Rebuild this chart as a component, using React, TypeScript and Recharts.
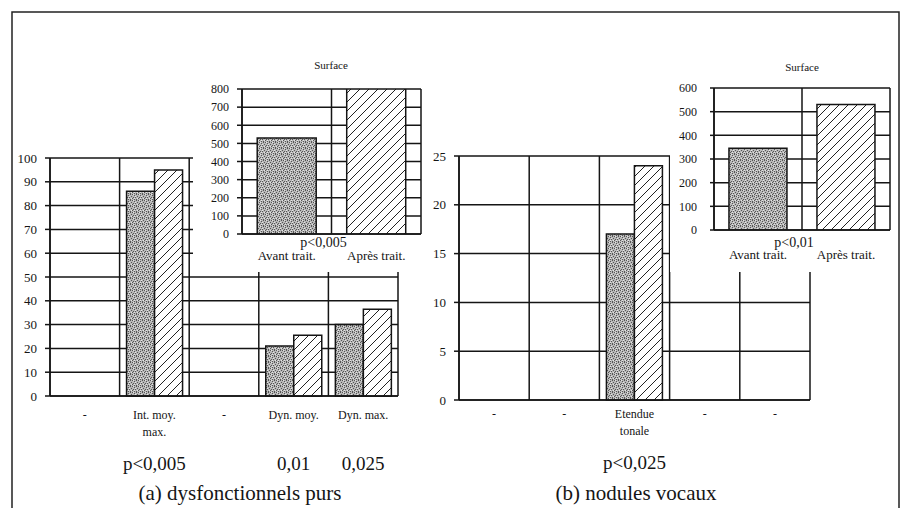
import { BarChart, Bar, XAxis, YAxis, CartesianGrid, Cell, Label } from 'recharts'

// main chart (a) dysfonctionnels purs
const catsA = ['-', 'Int. moy.\nmax.', '-', 'Dyn. moy.', 'Dyn. max.']
const avantA = [null, 86, null, 21, 30]
const apresA = [null, 95, null, 25.5, 36.5]
const pValsA = ['', 'p<0,005', '', '0,01', '0,025']
const ticksA = [0, 10, 20, 30, 40, 50, 60, 70, 80, 90, 100]

// main chart (b) nodules vocaux
const catsB = ['-', '-', 'Etendue\ntonale', '-', '-']
const avantB = [null, null, 17, null, null]
const apresB = [null, null, 24, null, null]
const pValsB = ['', '', 'p<0,025', '', '']
const ticksB = [0, 5, 10, 15, 20, 25]

// "Surface" insets
const surfCats = ['Avant trait.', 'Après trait.']
const surfA = [530, 800]
const surfB = [345, 530]
const surfTicksA = [0, 100, 200, 300, 400, 500, 600, 700, 800]
const surfTicksB = [0, 100, 200, 300, 400, 500, 600]
const surfPA = 'p<0,005'
const surfPB = 'p<0,01'
const surfTitle = 'Surface'

const captionA = '(a) dysfonctionnels purs'
const captionB = '(b) nodules vocaux'

const FONT = 'Liberation Serif, DejaVu Serif, serif'
const INK = '#151515'

const dataA = catsA.map((c, i) => ({ cat: c, avant: avantA[i], apres: apresA[i] }))
const dataB = catsB.map((c, i) => ({ cat: c, avant: avantB[i], apres: apresB[i] }))
const insetA = surfCats.map((c, i) => ({ cat: c, v: surfA[i] }))
const insetB = surfCats.map((c, i) => ({ cat: c, v: surfB[i] }))

// speckle for the grey "avant" bars
const DARK = [[0, 0], [4, 0], [2, 1], [5, 2], [1, 3], [3, 3], [0, 4], [4, 5], [2, 5]]
const LIGHT = [[1, 0], [3, 2], [5, 4], [2, 4]]

function Patterns({ id }: { id: string }) {
  return (
    <defs>
      <pattern id={`hatch-${id}`} patternUnits="userSpaceOnUse" width="9" height="9">
        <rect width="9" height="9" fill="#fff" />
        <path d="M-1,1 l2,-2 M0,9 l9,-9 M8,10 l2,-2" stroke="#222" strokeWidth="1" />
      </pattern>
      <pattern id={`dots-${id}`} patternUnits="userSpaceOnUse" width="6" height="6">
        <rect width="6" height="6" fill="#b8b8b8" />
        {DARK.map(([x, y], i) => <rect key={`d${i}`} x={x} y={y} width="1" height="1" fill="#555" />)}
        {LIGHT.map(([x, y], i) => <rect key={`l${i}`} x={x} y={y} width="1" height="1" fill="#e4e4e4" />)}
      </pattern>
    </defs>
  )
}

// vertical grid lines on category boundaries, like Excel
const boundaries = (n: number) => ({ offset }: any) =>
  Array.from({ length: n + 1 }, (_, i) => offset.left + (offset.width * i) / n)

function MainTick(props: any) {
  const { x, y, index, payload, pvals, pGap } = props
  const lines = String(payload.value).split('\n')
  return (
    <g style={{ fontFamily: FONT }} fill={INK}>
      {lines.map((l: string, i: number) => (
        <text key={i} x={x} y={y + i * 17} textAnchor="middle" fontSize={12}>{l}</text>
      ))}
      {pvals[index] ? (
        <text x={x} y={y + pGap} textAnchor="middle" fontSize={19}>{pvals[index]}</text>
      ) : null}
    </g>
  )
}

function InsetTick(props: any) {
  const { x, y, payload } = props
  return (
    <text x={x} y={y} textAnchor="middle" fontSize={13} style={{ fontFamily: FONT }} fill={INK}>
      {payload.value}
    </text>
  )
}

function MainChart({ id, data, ticks, max, pvals, width, height, margin, labelGap }: any) {
  return (
    <BarChart width={width} height={height} data={data} margin={margin} barCategoryGap="10%" barGap={0} style={{ fontFamily: FONT }}>
      <Patterns id={id} />
      <CartesianGrid stroke={INK} strokeWidth={1.5} verticalCoordinatesGenerator={boundaries(data.length)} />
      <XAxis
        dataKey="cat"
        height={20}
        interval={0}
        tickLine={false}
        tickSize={0}
        tickMargin={labelGap}
        axisLine={{ stroke: INK, strokeWidth: 1.5 }}
        tick={(p: any) => <MainTick {...p} pvals={pvals} pGap={51} />}
      />
      <YAxis
        width={40}
        domain={[0, max]}
        ticks={ticks}
        interval={0}
        tickSize={5}
        tickMargin={8}
        tickLine={{ stroke: INK, strokeWidth: 1.5 }}
        axisLine={{ stroke: INK, strokeWidth: 1.5 }}
        tick={{ fill: INK, fontSize: 13, fontFamily: FONT }}
      />
      <Bar dataKey="avant" fill={`url(#dots-${id})`} stroke={INK} strokeWidth={1.5} isAnimationActive={false} />
      <Bar dataKey="apres" fill={`url(#hatch-${id})`} stroke={INK} strokeWidth={1.5} isAnimationActive={false} />
    </BarChart>
  )
}

function SurfaceInset({ id, data, ticks, max, pLabel, width, height, margin, yGap, labelGap, pGap }: any) {
  return (
    <BarChart width={width} height={height} data={data} margin={margin} barCategoryGap="17%" style={{ fontFamily: FONT }}>
      <Patterns id={id} />
      <CartesianGrid stroke={INK} strokeWidth={1.5} verticalCoordinatesGenerator={boundaries(data.length)} />
      <XAxis
        dataKey="cat"
        height={30}
        interval={0}
        tickLine={false}
        tickSize={0}
        tickMargin={labelGap}
        axisLine={{ stroke: INK, strokeWidth: 1.5 }}
        tick={<InsetTick />}
      >
        <Label value={pLabel} position="insideTop" offset={pGap} dx={-8} fontSize={14} fontFamily={FONT} fill={INK} />
      </XAxis>
      <YAxis
        width={40}
        domain={[0, max]}
        allowDataOverflow
        ticks={ticks}
        interval={0}
        tickSize={yGap[0]}
        tickMargin={yGap[1]}
        tickLine={{ stroke: INK, strokeWidth: 1.5 }}
        axisLine={{ stroke: INK, strokeWidth: 1.5 }}
        tick={{ fill: INK, fontSize: 12, fontFamily: FONT }}
      />
      <Bar dataKey="v" stroke={INK} strokeWidth={1.5} isAnimationActive={false}>
        {data.map((_: any, i: number) => (
          <Cell key={i} fill={i === 0 ? `url(#dots-${id})` : `url(#hatch-${id})`} />
        ))}
      </Bar>
    </BarChart>
  )
}

export default function App() {
  return (
    <div style={{ position: 'absolute', left: 0, top: 0, width: 904, height: 508, background: '#fff', overflow: 'hidden', fontFamily: FONT }}>
      <div style={{ position: 'absolute', left: 0, top: 140 }}>
        <MainChart
          id="ma" data={dataA} ticks={ticksA} max={100} pvals={pValsA}
          width={440} height={368} margin={{ top: 18, right: 42, bottom: 92, left: 10 }} labelGap={23}
        />
      </div>
      <div style={{ position: 'absolute', left: 410, top: 140 }}>
        <MainChart
          id="mb" data={dataB} ticks={ticksB} max={25} pvals={pValsB}
          width={494} height={368} margin={{ top: 16, right: 94, bottom: 88, left: 9 }} labelGap={18}
        />
      </div>

      <div style={{ position: 'absolute', left: 193, top: 40, width: 232, height: 232, background: '#fff' }}>
        <SurfaceInset
          id="sa" data={insetA} ticks={surfTicksA} max={800} pLabel={surfPA}
          width={232} height={232} margin={{ top: 49, right: 4, bottom: 8, left: 9 }}
          yGap={[5, 8]} labelGap={26} pGap={3}
        />
      </div>
      <div style={{ position: 'absolute', left: 670, top: 40, width: 225, height: 232, background: '#fff' }}>
        <SurfaceInset
          id="sb" data={insetB} ticks={surfTicksB} max={600} pLabel={surfPB}
          width={225} height={232} margin={{ top: 48, right: 5, bottom: 12, left: 4 }}
          yGap={[4, 13]} labelGap={29} pGap={7}
        />
      </div>

      <svg width={904} height={508} style={{ position: 'absolute', left: 0, top: 0, pointerEvents: 'none', fontFamily: FONT }}>
        <path d="M12,508 V12 H899 V508" fill="none" stroke="#222" strokeWidth={1.5} />
        <g fill={INK} textAnchor="middle">
          <text x={331} y={69} fontSize={11}>{surfTitle}</text>
          <text x={802} y={71} fontSize={11}>{surfTitle}</text>
          <text x={240} y={500} fontSize={21}>{captionA}</text>
          <text x={636} y={500} fontSize={21}>{captionB}</text>
        </g>
      </svg>
    </div>
  )
}
